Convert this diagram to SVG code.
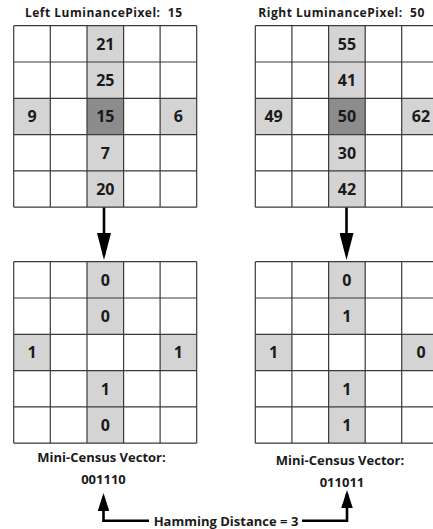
<svg xmlns="http://www.w3.org/2000/svg" width="433" height="529" viewBox="0 0 433 529">
<style>
.bg{fill:#ffffff}
.lt{fill:#d4d4d4}
.dk{fill:#8c8c8c}
.gl{fill:none;stroke:#3a3a3a;stroke-width:1.2}
.v{font-family:"Open Sans","Liberation Sans",sans-serif;font-weight:bold;font-size:16px;fill:#1a1a1a;text-anchor:middle}
.t{font-family:"Open Sans","Liberation Sans",sans-serif;font-weight:bold;font-size:12px;fill:#1a1a1a}
.m{font-family:"Open Sans","Liberation Sans",sans-serif;font-weight:bold;font-size:13px;fill:#1a1a1a;text-anchor:middle}
.c{fill:none;stroke:#000;stroke-width:2.6}
</style>
<defs>
<marker id="big" markerUnits="userSpaceOnUse" markerWidth="27" markerHeight="14" refX="22" refY="7" orient="auto" viewBox="0 0 27 14">
<path d="M0,0 L27,7 L0,14 Z" fill="#000"/>
</marker>
<marker id="small" markerUnits="userSpaceOnUse" markerWidth="18" markerHeight="11.5" refX="14" refY="5.75" orient="auto" viewBox="0 0 18 11.5">
<path d="M0,0 L18,5.75 L0,11.5 Z" fill="#000"/>
</marker>
</defs>

<g id="left-title"><text class="t" x="25" y="17.3" textLength="157" lengthAdjust="spacing" xml:space="preserve">Left LuminancePixel:  15</text></g>
<g id="right-title"><text class="t" x="258.3" y="17.3" textLength="166" lengthAdjust="spacing" xml:space="preserve">Right LuminancePixel:  50</text></g>

<g id="left-luminance">
<rect class="bg" x="13.7" y="25.7" width="183" height="181.5"/>
<rect class="lt" x="87.0" y="25.7" width="36.6" height="181.5"/>
<rect class="lt" x="13.7" y="98.3" width="36.6" height="36.3"/>
<rect class="lt" x="160.1" y="98.3" width="36.6" height="36.3"/>
<rect class="dk" x="87.0" y="98.3" width="36.6" height="36.3"/>
<path class="gl" d="M13.7,25.7V207.2M50.3,25.7V207.2M87,25.7V207.2M123.6,25.7V207.2M160.1,25.7V207.2M196.7,25.7V207.2M13.7,25.7H196.7M13.7,62H196.7M13.7,98.3H196.7M13.7,134.6H196.7M13.7,170.9H196.7M13.7,207.2H196.7"/>
<text class="v" x="105.3" y="49.7">21</text>
<text class="v" x="105.3" y="86">25</text>
<text class="v" x="32" y="122.3">9</text>
<text class="v" x="105.3" y="122.3">15</text>
<text class="v" x="178.4" y="122.3">6</text>
<text class="v" x="105.3" y="158.6">7</text>
<text class="v" x="105.3" y="194.9">20</text>
</g>

<g id="right-luminance">
<rect class="bg" x="255.3" y="25.7" width="183" height="181.5"/>
<rect class="lt" x="328.6" y="25.7" width="36.6" height="181.5"/>
<rect class="lt" x="255.3" y="98.3" width="36.6" height="36.3"/>
<rect class="lt" x="401.7" y="98.3" width="36.6" height="36.3"/>
<rect class="dk" x="328.6" y="98.3" width="36.6" height="36.3"/>
<path class="gl" d="M255.3,25.7V207.2M291.9,25.7V207.2M328.6,25.7V207.2M365.2,25.7V207.2M401.7,25.7V207.2M438.3,25.7V207.2M255.3,25.7H438.3M255.3,62H438.3M255.3,98.3H438.3M255.3,134.6H438.3M255.3,170.9H438.3M255.3,207.2H438.3"/>
<text class="v" x="346.9" y="49.7">55</text>
<text class="v" x="346.9" y="86">41</text>
<text class="v" x="273.6" y="122.3">49</text>
<text class="v" x="346.9" y="122.3">50</text>
<text class="v" x="421" y="122.3">62</text>
<text class="v" x="346.9" y="158.6">30</text>
<text class="v" x="346.9" y="194.9">42</text>
</g>

<g id="left-census">
<rect class="bg" x="13.7" y="261.7" width="183" height="181.5"/>
<rect class="lt" x="87.0" y="261.7" width="36.6" height="72.6"/>
<rect class="lt" x="87.0" y="370.6" width="36.6" height="72.6"/>
<rect class="lt" x="13.7" y="334.3" width="36.6" height="36.3"/>
<rect class="lt" x="160.1" y="334.3" width="36.6" height="36.3"/>
<path class="gl" d="M13.7,261.7V443.2M50.3,261.7V443.2M87,261.7V443.2M123.6,261.7V443.2M160.1,261.7V443.2M196.7,261.7V443.2M13.7,261.7H196.7M13.7,298H196.7M13.7,334.3H196.7M13.7,370.6H196.7M13.7,406.9H196.7M13.7,443.2H196.7"/>
<text class="v" x="105.3" y="285.7">0</text>
<text class="v" x="105.3" y="322">0</text>
<text class="v" x="32" y="358.3">1</text>
<text class="v" x="178.4" y="358.3">1</text>
<text class="v" x="105.3" y="394.6">1</text>
<text class="v" x="105.3" y="430.9">0</text>
</g>

<g id="right-census">
<rect class="bg" x="255.3" y="261.7" width="183" height="181.5"/>
<rect class="lt" x="328.6" y="261.7" width="36.6" height="72.6"/>
<rect class="lt" x="328.6" y="370.6" width="36.6" height="72.6"/>
<rect class="lt" x="255.3" y="334.3" width="36.6" height="36.3"/>
<rect class="lt" x="401.7" y="334.3" width="36.6" height="36.3"/>
<path class="gl" d="M255.3,261.7V443.2M291.9,261.7V443.2M328.6,261.7V443.2M365.2,261.7V443.2M401.7,261.7V443.2M438.3,261.7V443.2M255.3,261.7H438.3M255.3,298H438.3M255.3,334.3H438.3M255.3,370.6H438.3M255.3,406.9H438.3M255.3,443.2H438.3"/>
<text class="v" x="346.9" y="285.7">0</text>
<text class="v" x="346.9" y="322">1</text>
<text class="v" x="273.6" y="358.3">1</text>
<text class="v" x="421" y="358.3">0</text>
<text class="v" x="346.9" y="394.6">1</text>
<text class="v" x="346.9" y="430.9">1</text>
</g>

<g id="left-vector">
<text class="m" x="101.5" y="462">Mini-Census Vector:</text>
<text class="m" x="103.5" y="484.3">001110</text>
</g>
<g id="right-vector">
<text class="m" x="340" y="465">Mini-Census Vector:</text>
<text class="m" x="342" y="487.3">011011</text>
</g>
<g id="hamming"><text class="m" x="226" y="525.5">Hamming Distance = 3</text></g>

<g id="connectors">
<path class="c" d="M104,207.5V255" marker-end="url(#big)"/>
<path class="c" d="M346.5,207.5V255" marker-end="url(#big)"/>
<path class="c" d="M149,520.8H103.5V497" marker-end="url(#small)"/>
<path class="c" d="M302,520.8H347V494" marker-end="url(#small)"/>
</g>
</svg>
